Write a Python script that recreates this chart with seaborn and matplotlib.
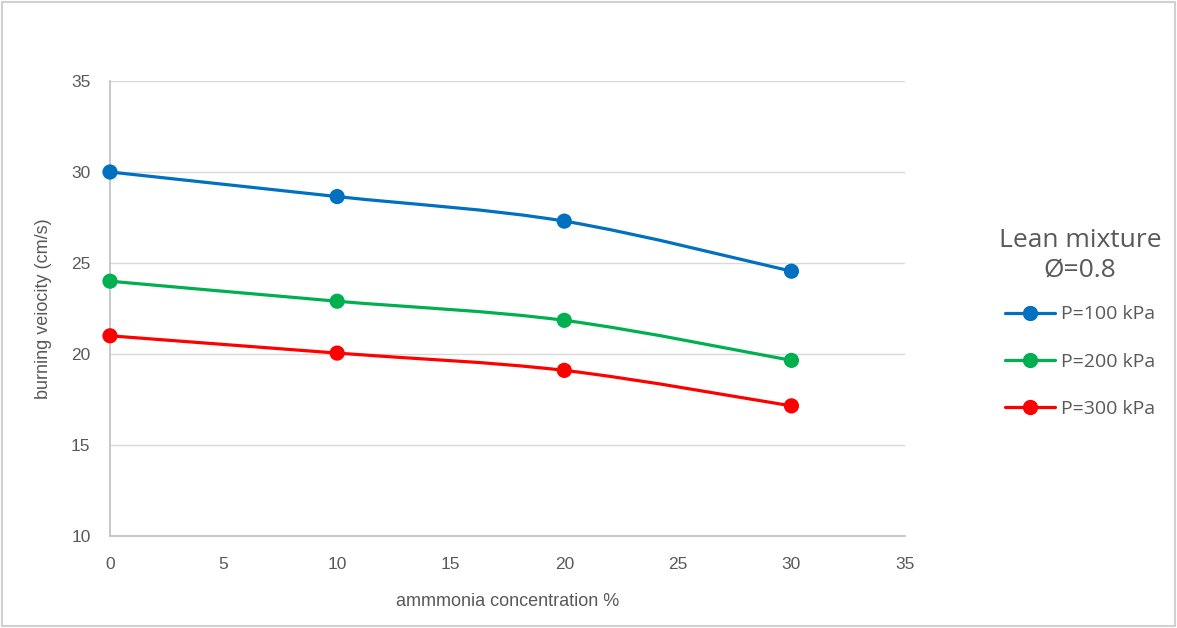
import matplotlib
matplotlib.use('Agg')
import matplotlib.pyplot as plt
import seaborn as sns
import pandas as pd
import numpy as np
from matplotlib.path import Path
from matplotlib.patches import PathPatch, Rectangle
from matplotlib.lines import Line2D

# 암모니아 농도별 연소속도 (lean mixture)
conc = [0, 10, 20, 30]
p100 = [30.0, 28.65, 27.3, 24.55]
p200 = [24.0, 22.9, 21.85, 19.65]
p300 = [21.0, 20.05, 19.1, 17.15]
labels = ['P=100 kPa', 'P=200 kPa', 'P=300 kPa']
colors = ['#0070C0', '#00B050', '#FF0000']

df = pd.DataFrame({'conc': conc * 3,
                   'v': p100 + p200 + p300,
                   'series': [l for l in labels for _ in conc]})

sns.set_style('white')
plt.rcParams['font.family'] = ['Liberation Sans', 'DejaVu Sans']
gray = '#595959'

fig = plt.figure(figsize=(11.77, 6.28), dpi=100)
ax = fig.add_axes([110/1177, 1-536/628, 795/1177, 455/628])

# 엑셀 스타일 부드러운 선 (Catmull-Rom -> Bezier)
def smooth_path(x, y, k=1/6):
    pts = np.column_stack([x, y]).astype(float)
    verts = [pts[0]]
    codes = [Path.MOVETO]
    n = len(pts)
    for i in range(n - 1):
        p0 = pts[max(i - 1, 0)]
        p1 = pts[i]
        p2 = pts[i + 1]
        p3 = pts[min(i + 2, n - 1)]
        c1 = p1 + (p2 - p0) * k
        c2 = p2 - (p3 - p1) * k
        verts += [c1, c2, p2]
        codes += [Path.CURVE4] * 3
    return Path(verts, codes)

for lab, col in zip(labels, colors):
    sub = df[df['series'] == lab]
    ax.add_patch(PathPatch(smooth_path(sub['conc'], sub['v']), fill=False,
                           edgecolor=col, lw=2.3, zorder=2))

sns.scatterplot(data=df, x='conc', y='v', hue='series', palette=colors,
                s=120, edgecolor='none', ax=ax, legend=False, zorder=3, clip_on=False)

ax.set_xlim(0, 35)
ax.set_ylim(10, 35)
ax.set_xticks(range(0, 36, 5))
ax.set_yticks(range(10, 36, 5))
ax.yaxis.grid(True, color='#d9d9d9', lw=1)
ax.xaxis.grid(False)
for s in ['top', 'right']:
    ax.spines[s].set_visible(False)
for s in ['left', 'bottom']:
    ax.spines[s].set_color('#bfbfbf')
    ax.spines[s].set_linewidth(1.2)
ax.tick_params(colors=gray, labelsize=12.5, length=0)
ax.tick_params(axis='x', pad=15)
ax.tick_params(axis='y', pad=14)
ax.set_xlabel('ammmonia concentration %', color=gray, fontsize=13, labelpad=15)
ax.set_ylabel('burning veiocity (cm/s)', color=gray, fontsize=13, labelpad=14)

handles = [Line2D([0], [0], color=c, lw=2.3, marker='o', markersize=10) for c in colors]
leg = fig.legend(handles, labels, title='Lean mixture\nØ=0.8', loc='upper center',
                 bbox_to_anchor=(1080/1177, 1-210/628), frameon=False,
                 prop={'family': ['Open Sans', 'DejaVu Sans'], 'size': 14},
                 labelspacing=1.5, handlelength=2.6, handletextpad=0.3)
leg.get_title().set_fontsize(19)
leg.get_title().set_color(gray)
leg.get_title().set_family(['Open Sans', 'DejaVu Sans'])
leg.get_title().set_multialignment('center')
leg.get_title().set_linespacing(1.3)
leg._legend_box.sep = 16
for t in leg.get_texts():
    t.set_color(gray)

fig.patches.append(Rectangle((0.002, 0.003), 0.996, 0.994, transform=fig.transFigure,
                             fill=False, edgecolor='#d0d0d0', lw=1.5))

fig.savefig('out.png', dpi=100)
